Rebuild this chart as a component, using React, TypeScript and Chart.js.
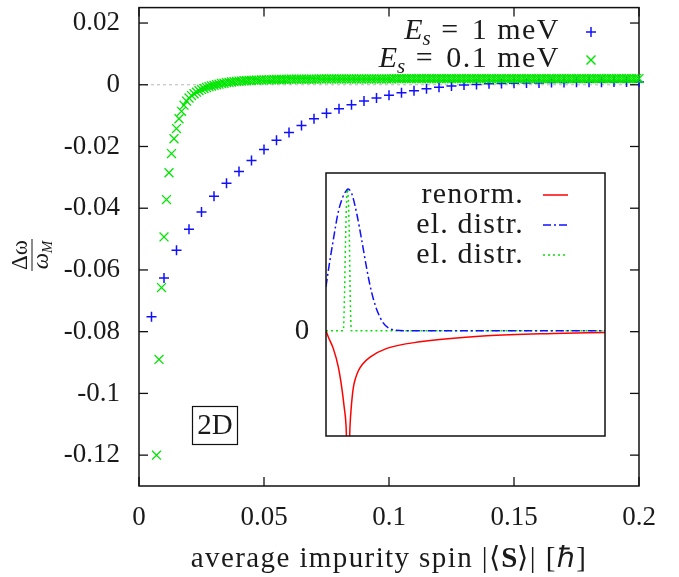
import React, { useEffect, useRef } from "react";
import { Chart, registerables } from "chart.js";
Chart.register(...registerables);

const SERIF = '"Liberation Serif", Tinos, "Times New Roman", Times, serif';
const INK = "#1a1a1a";
const BLUE = "#1010ff";
const GREEN = "#00e600";
const RED = "#ff0000";

// ---- main axes ----
const xTickValues = [0, 0.05, 0.1, 0.15, 0.2];
const xTickLabels = ["0", "0.05", "0.1", "0.15", "0.2"];
const yTickValues = [0.02, 0, -0.02, -0.04, -0.06, -0.08, -0.1, -0.12];
const yTickLabels = ["0.02", "0", "-0.02", "-0.04", "-0.06", "-0.08", "-0.1", "-0.12"];

// ---- E_s = 1 meV (blue +) ----
const blueX = [
  0.005, 0.01, 0.015, 0.02, 0.025, 0.03, 0.035, 0.04, 0.045, 0.05,
  0.055, 0.06, 0.065, 0.07, 0.075, 0.08, 0.085, 0.09, 0.095, 0.1,
  0.105, 0.11, 0.115, 0.12, 0.125, 0.13, 0.135, 0.14, 0.145, 0.15,
  0.155, 0.16, 0.165, 0.17, 0.175, 0.18, 0.185, 0.19, 0.195, 0.2,
];
const blueY = [
  -0.0752, -0.0626, -0.0536, -0.0468, -0.0412, -0.0361, -0.0319, -0.0281, -0.0245, -0.021,
  -0.018, -0.0155, -0.0132, -0.011, -0.0092, -0.0078, -0.0065, -0.0053, -0.0043, -0.0034,
  -0.0026, -0.0019, -0.0013, -0.0008, -0.0004, -0.0001, 0.0001, 0.0003, 0.0004, 0.0005,
  0.0006, 0.0006, 0.0007, 0.0007, 0.0008, 0.0008, 0.0008, 0.0009, 0.0009, 0.0009,
];

// ---- E_s = 0.1 meV (green x), sampled every 0.001 from 0.007 ----
const greenStart = 0.007;
const greenStep = 0.001;
const greenY = [
  -0.12, -0.089, -0.0657, -0.0493, -0.0372, -0.0285, -0.0223, -0.0175, -0.0142, -0.011,
  -0.0086, -0.0066, -0.0053, -0.0043, -0.0035, -0.0029, -0.0024, -0.0019, -0.0015, -0.0012,
  -0.0009, -0.0006, -0.0004, -0.0002, 0.0, 0.0002, 0.0004, 0.0005, 0.0007, 0.0008,
  0.0009, 0.001, 0.0011, 0.0012, 0.0012, 0.0013, 0.0013, 0.0014, 0.0014, 0.0015,
  0.0015, 0.0015, 0.0016, 0.0016, 0.0016, 0.0016, 0.0016, 0.0017, 0.0017, 0.0017,
  0.0017, 0.0017, 0.0017, 0.0018, 0.0018, 0.0018, 0.0018, 0.0018, 0.0018, 0.0018,
  0.0018, 0.0018, 0.0018, 0.0018, 0.0018, 0.0019, 0.0019, 0.0019, 0.0019, 0.0019,
  0.0019, 0.0019, 0.0019, 0.0019, 0.0019, 0.0019, 0.0019, 0.0019, 0.0019, 0.0019,
  0.0019, 0.0019, 0.0019, 0.0019, 0.0019, 0.0019, 0.0019, 0.0019, 0.0019, 0.0019,
  0.0019, 0.0019, 0.0019, 0.0019, 0.0019, 0.002, 0.002, 0.002, 0.002, 0.002,
  0.002, 0.002, 0.002, 0.002, 0.002, 0.002, 0.002, 0.002, 0.002, 0.002,
  0.002, 0.002, 0.002, 0.002, 0.002, 0.002, 0.002, 0.002, 0.002, 0.002,
  0.002, 0.002, 0.002, 0.002, 0.002, 0.002, 0.002, 0.002, 0.002, 0.002,
  0.002, 0.002, 0.002, 0.002, 0.002, 0.002, 0.002, 0.002, 0.002, 0.002,
  0.002, 0.002, 0.002, 0.002, 0.002, 0.002, 0.002, 0.002, 0.002, 0.002,
  0.002, 0.002, 0.002, 0.002, 0.002, 0.002, 0.002, 0.002, 0.002, 0.002,
  0.002, 0.002, 0.002, 0.002, 0.002, 0.002, 0.002, 0.002, 0.002, 0.002,
  0.002, 0.002, 0.002, 0.002, 0.002, 0.002, 0.002, 0.002, 0.002, 0.002,
  0.002, 0.002, 0.002, 0.002, 0.002, 0.002, 0.002, 0.002, 0.002, 0.002,
  0.002, 0.002, 0.002, 0.002,
];
const greenX = greenY.map((_, i) => Math.round((greenStart + greenStep * i) * 1000) / 1000);

// ---- inset curves (arbitrary units) ----
const renormX = [0, 0.008, 0.026, 0.044, 0.056, 0.065, 0.072, 0.077, 0.081, 0.086, 0.092, 0.098, 0.106, 0.116, 0.13, 0.158, 0.218, 0.337, 0.576, 0.814, 1.0];
const renormY = [0, -0.057, -0.167, -0.342, -0.53, -0.72, -0.91, -1.3, -1.3, -0.91, -0.68, -0.54, -0.45, -0.38, -0.32, -0.25, -0.167, -0.105, -0.048, -0.025, -0.015];
const broadX = [0, 0.005, 0.026, 0.044, 0.06, 0.074, 0.079, 0.092, 0.11, 0.128, 0.146, 0.158, 0.17, 0.182, 0.205, 0.225, 0.25, 0.3, 1];
const broadY = [0.418, 0.513, 0.862, 1.13, 1.27, 1.337, 1.347, 1.306, 1.116, 0.862, 0.59, 0.43, 0.3, 0.2, 0.075, 0.025, 0.005, 0, 0];
const narrowX = [0, 0.062, 0.066, 0.07, 0.074, 0.077, 0.08, 0.084, 0.087, 0.091, 1];
const narrowY = [0, 0, 0.3, 0.85, 1.25, 1.347, 1.25, 0.85, 0.3, 0, 0];

const legendMain = [
  { sub: "s", rest: "1 meV" },
  { sub: "s", rest: "0.1 meV" },
];
const insetLegend = ["renorm.", "el. distr.", "el. distr."];

type Seg = { t: string; font: string; dy?: number; ls?: number };

function drawSegs(ctx: CanvasRenderingContext2D, segs: Seg[], x: number, y: number, align: "left" | "right" | "center") {
  const widths = segs.map((s) => {
    ctx.font = s.font;
    (ctx as any).letterSpacing = (s.ls || 0) + "px";
    return ctx.measureText(s.t).width;
  });
  const total = widths.reduce((a, b) => a + b, 0);
  let cx = align === "left" ? x : align === "right" ? x - total : x - total / 2;
  ctx.textAlign = "left";
  segs.forEach((s, i) => {
    ctx.font = s.font;
    (ctx as any).letterSpacing = (s.ls || 0) + "px";
    ctx.fillText(s.t, cx, y + (s.dy || 0));
    cx += widths[i];
  });
  (ctx as any).letterSpacing = "0px";
}

function line(ctx: CanvasRenderingContext2D, x1: number, y1: number, x2: number, y2: number) {
  ctx.beginPath();
  ctx.moveTo(x1, y1);
  ctx.lineTo(x2, y2);
  ctx.stroke();
}

const mainDecor = {
  id: "mainDecor",
  beforeDatasetsDraw(chart: any) {
    const { ctx, chartArea: a, scales } = chart;
    const y0 = scales.y.getPixelForValue(0);
    ctx.save();
    ctx.strokeStyle = "#b8b8b8";
    ctx.lineWidth = 1;
    ctx.setLineDash([3, 3]);
    line(ctx, a.left, y0, a.right, y0);
    ctx.setLineDash([]);
    ctx.strokeStyle = "#111";
    ctx.lineWidth = 1.5;
    ctx.strokeRect(a.left, a.top, a.right - a.left, a.bottom - a.top);
    ctx.lineWidth = 1.3;
    const TL = 9;
    xTickValues.forEach((v) => {
      const px = scales.x.getPixelForValue(v);
      line(ctx, px, a.bottom, px, a.bottom - TL);
      line(ctx, px, a.top, px, a.top + TL);
    });
    yTickValues.forEach((v) => {
      const py = scales.y.getPixelForValue(v);
      line(ctx, a.left, py, a.left + TL, py);
      line(ctx, a.right, py, a.right - TL, py);
    });
    ctx.restore();
  },
  afterDraw(chart: any) {
    const { ctx, chartArea: a } = chart;
    ctx.save();
    ctx.fillStyle = INK;
    ctx.textBaseline = "alphabetic";
    // legend
    const rows = [39, 67];
    legendMain.forEach((r, i) => {
      drawSegs(
        ctx,
        [
          { t: "E", font: `italic 30px ${SERIF}` },
          { t: r.sub, font: `italic 21px ${SERIF}`, dy: 6 },
          { t: " = ", font: `30px ${SERIF}`, ls: 3 },
          { t: r.rest, font: `30px ${SERIF}`, ls: 1.5 },
        ],
        560,
        rows[i],
        "right"
      );
    });
    // legend markers
    ctx.lineWidth = 1.5;
    ctx.strokeStyle = BLUE;
    line(ctx, 586, 32, 596, 32);
    line(ctx, 591, 27, 591, 37);
    ctx.strokeStyle = GREEN;
    line(ctx, 586.5, 55.5, 595.5, 64.5);
    line(ctx, 586.5, 64.5, 595.5, 55.5);

    // 2D box
    ctx.strokeStyle = "#111";
    ctx.lineWidth = 1.2;
    ctx.strokeRect(192.5, 406.5, 45, 38);
    ctx.font = `29px ${SERIF}`;
    ctx.textAlign = "center";
    ctx.fillText("2D", 215, 434);

    // x title
    const cx = (a.left + a.right) / 2;
    drawSegs(
      ctx,
      [
        { t: "average impurity spin |\u27E8", font: `29px ${SERIF}`, ls: 1.4 },
        { t: "S", font: `bold 29px ${SERIF}` },
        { t: "\u27E9| [\u210F]", font: `29px ${SERIF}`, ls: 1.4 },
      ],
      cx,
      567,
      "center"
    );

    // y title: fraction  Δω / ω_M, rotated
    ctx.translate(32, 255);
    ctx.rotate(-Math.PI / 2);
    ctx.textAlign = "center";
    ctx.font = `23px ${SERIF}`;
    ctx.fillText("\u0394\u03C9", 0, -5);
    ctx.lineWidth = 1;
    ctx.strokeStyle = INK;
    line(ctx, -16, 0, 16, 0);
    drawSegs(
      ctx,
      [
        { t: "\u03C9", font: `italic 23px ${SERIF}` },
        { t: "M", font: `italic 15px ${SERIF}`, dy: 4 },
      ],
      0,
      16,
      "center"
    );
    ctx.restore();
  },
};

const insetDecor = {
  id: "insetDecor",
  beforeDatasetsDraw(chart: any) {
    const { ctx, chartArea: a } = chart;
    ctx.save();
    ctx.fillStyle = "#fff";
    ctx.fillRect(a.left, a.top, a.right - a.left, a.bottom - a.top);
    ctx.restore();
  },
  afterDraw(chart: any) {
    const { ctx, chartArea: a, scales } = chart;
    ctx.save();
    ctx.strokeStyle = "#111";
    ctx.lineWidth = 1.5;
    ctx.strokeRect(a.left, a.top, a.right - a.left, a.bottom - a.top);
    const y0 = scales.y.getPixelForValue(0);
    ctx.fillStyle = INK;
    ctx.font = `29px ${SERIF}`;
    ctx.textAlign = "center";
    ctx.textBaseline = "middle";
    ctx.fillText("0", 22, y0 + 1);
    // legend
    ctx.textBaseline = "alphabetic";
    const rowsY = [30, 60, 90];
    insetLegend.forEach((t, i) => {
      drawSegs(ctx, [{ t, font: `30px ${SERIF}`, ls: 1.2 }], 244, rowsY[i] + 8, "right");
    });
    ctx.lineWidth = 1.5;
    ctx.strokeStyle = RED;
    line(ctx, 263, rowsY[0], 288, rowsY[0]);
    ctx.strokeStyle = BLUE;
    ctx.setLineDash([8, 3, 2, 3]);
    line(ctx, 263, rowsY[1], 288, rowsY[1]);
    ctx.strokeStyle = GREEN;
    ctx.setLineDash([2, 3]);
    line(ctx, 263, rowsY[2], 288, rowsY[2]);
    ctx.restore();
  },
};

export default function App() {
  const mainRef = useRef<HTMLCanvasElement>(null);
  const insetRef = useRef<HTMLCanvasElement>(null);

  useEffect(() => {
    const tickFont = { family: SERIF, size: 27 };
    const main = new Chart(mainRef.current as HTMLCanvasElement, {
      type: "scatter",
      data: {
        datasets: [
          {
            label: "E_s = 1 meV",
            data: blueX.map((x, i) => ({ x, y: blueY[i] })),
            order: 1,
            pointStyle: "cross",
            pointRadius: 5,
            pointBorderWidth: 1.5,
            borderColor: BLUE,
            backgroundColor: BLUE,
            showLine: false,
            clip: false,
          } as any,
          {
            label: "E_s = 0.1 meV",
            data: greenX.map((x, i) => ({ x, y: greenY[i] })),
            order: 0,
            pointStyle: "crossRot",
            pointRadius: 6.3,
            pointBorderWidth: 1.3,
            borderColor: GREEN,
            backgroundColor: GREEN,
            showLine: false,
            clip: false,
          } as any,
        ],
      },
      options: {
        animation: false,
        responsive: true,
        maintainAspectRatio: false,
        events: [],
        layout: { padding: { left: 0, right: 40, top: 7, bottom: 0 } },
        plugins: { legend: { display: false }, tooltip: { enabled: false } },
        scales: {
          x: {
            type: "linear",
            min: 0,
            max: 0.2,
            grid: { display: false },
            border: { display: false },
            afterBuildTicks: (s: any) => {
              s.ticks = xTickValues.map((v) => ({ value: v }));
            },
            afterFit: (s: any) => {
              s.height = 91;
              s.paddingLeft = 0;
              s.paddingRight = 0;
            },
            ticks: {
              padding: 8,
              color: INK,
              font: tickFont,
              maxRotation: 0,
              autoSkip: false,
              callback: (_v: any, i: number) => xTickLabels[i],
            },
          },
          y: {
            type: "linear",
            min: -0.13,
            max: 0.025,
            grid: { display: false },
            border: { display: false },
            afterBuildTicks: (s: any) => {
              s.ticks = yTickValues.map((v) => ({ value: v }));
            },
            afterFit: (s: any) => {
              s.width = 139;
              s.paddingTop = 0;
              s.paddingBottom = 0;
            },
            ticks: {
              padding: 11,
              color: INK,
              font: tickFont,
              autoSkip: false,
              callback: (_v: any, i: number) => yTickLabels[i],
            },
          },
        },
      } as any,
      plugins: [mainDecor as any],
    });

    const pts = (xs: number[], ys: number[]) => xs.map((x, i) => ({ x, y: ys[i] }));
    const inset = new Chart(insetRef.current as HTMLCanvasElement, {
      type: "line",
      data: {
        datasets: [
          {
            label: "renorm.",
            data: pts(renormX, renormY),
            borderColor: RED,
            borderWidth: 1.5,
            pointRadius: 0,
            cubicInterpolationMode: "monotone",
          },
          {
            label: "el. distr.",
            data: pts(broadX, broadY),
            borderColor: BLUE,
            borderWidth: 1.5,
            borderDash: [8, 3, 2, 3],
            pointRadius: 0,
            cubicInterpolationMode: "monotone",
          },
          {
            label: "el. distr.",
            data: pts(narrowX, narrowY),
            borderColor: GREEN,
            borderWidth: 1.5,
            borderDash: [2, 3],
            pointRadius: 0,
            cubicInterpolationMode: "monotone",
          },
        ] as any,
      },
      options: {
        animation: false,
        responsive: true,
        maintainAspectRatio: false,
        events: [],
        layout: { padding: { left: 46, right: 15, top: 8, bottom: 9 } },
        plugins: { legend: { display: false }, tooltip: { enabled: false } },
        scales: {
          x: { type: "linear", display: false, min: 0, max: 1 },
          y: { type: "linear", display: false, min: -1, max: 1.5 },
        },
      } as any,
      plugins: [insetDecor as any],
    });

    let alive = true;
    if ((document as any).fonts && (document as any).fonts.ready) {
      (document as any).fonts.ready.then(() => {
        if (alive) {
          main.update();
          inset.update();
        }
      });
    }

    return () => {
      alive = false;
      main.destroy();
      inset.destroy();
    };
  }, []);

  return (
    <div style={{ position: "absolute", left: 0, top: 0, width: 679, height: 577, background: "#fff" }}>
      <span style={{ position: "absolute", left: -9999, fontFamily: SERIF }}>.</span>
      <div style={{ position: "absolute", left: 0, top: 0, width: 679, height: 577 }}>
        <canvas ref={mainRef} />
      </div>
      <div style={{ position: "absolute", left: 280, top: 165, width: 340, height: 280 }}>
        <canvas ref={insetRef} />
      </div>
    </div>
  );
}
